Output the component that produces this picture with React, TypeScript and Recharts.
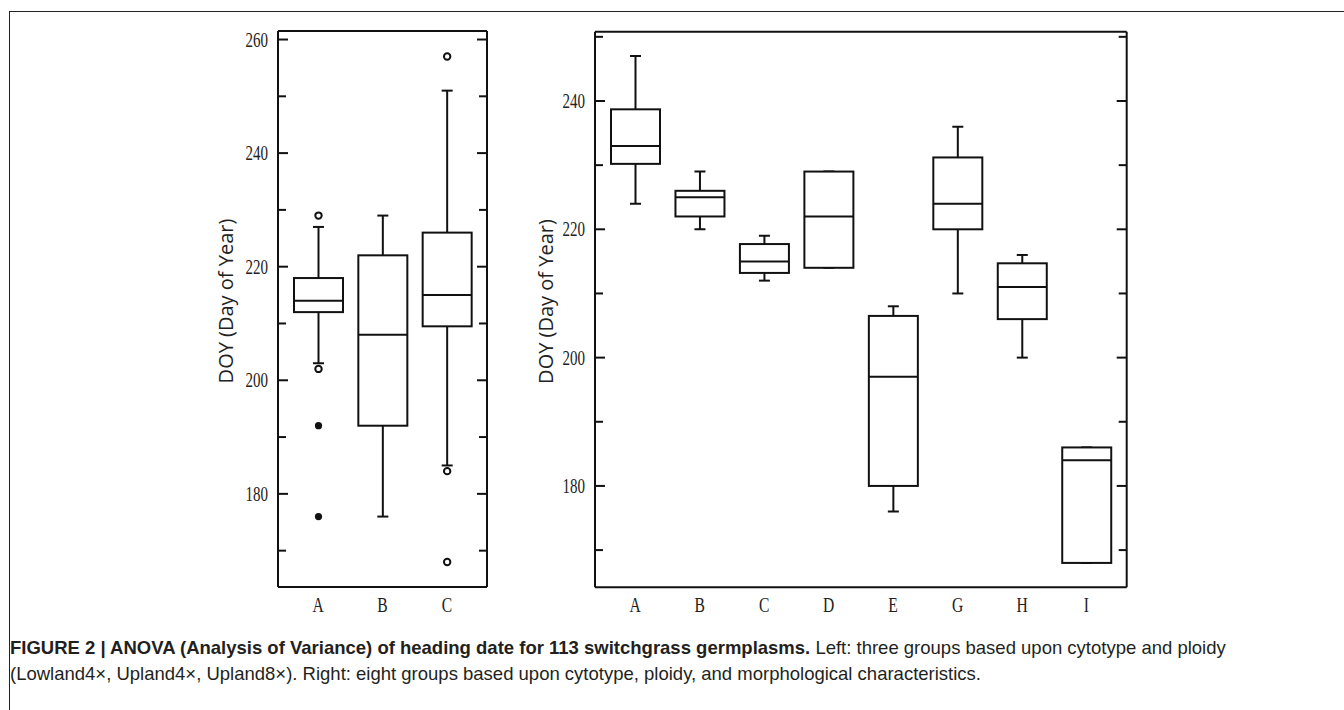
import React from "react";
import { ComposedChart, Bar, Line, XAxis, YAxis, ReferenceLine, Label } from "recharts";

// left panel: cytotype / ploidy groups
const leftCategories = ["A", "B", "C"];
const leftMin = [203, 176, 185];
const leftQ1 = [212, 192, 209.5];
const leftMedian = [214, 208, 215];
const leftQ3 = [218, 222, 226];
const leftMax = [227, 229, 251];
const leftOpenOutliers = [[229, 202], [], [257, 184, 168]];
const leftFilledOutliers = [[192, 176], [], []];
const leftTicks = [170, 180, 190, 200, 210, 220, 230, 240, 250, 260];
const leftDomain = [163.6, 261.5];

// right panel: eight groups
const rightCategories = ["A", "B", "C", "D", "E", "G", "H", "I"];
const rightMin = [224, 220, 212, 214, 176, 210, 200, 168];
const rightQ1 = [230.2, 222, 213.2, 214, 180, 220, 206, 168];
const rightMedian = [233, 225, 215, 222, 197, 224, 211, 184];
const rightQ3 = [238.7, 226, 217.7, 229, 206.5, 231.2, 214.7, 186];
const rightMax = [247, 229, 219, 229, 208, 236, 216, 186];
const rightTicks = [170, 180, 190, 200, 210, 220, 230, 240, 250];
const rightDomain = [164.2, 250.8];

const INK = "#111";

const buildRows = (
  cats: string[], min: number[], q1: number[], med: number[], q3: number[], max: number[],
  open: number[][] = [], filled: number[][] = []
) =>
  cats.map((name, i) => ({
    name,
    range: [min[i], max[i]],
    min: min[i], q1: q1[i], median: med[i], q3: q3[i], max: max[i],
    open: open[i] || [], filled: filled[i] || [],
  }));

const leftRows = buildRows(leftCategories, leftMin, leftQ1, leftMedian, leftQ3, leftMax, leftOpenOutliers, leftFilledOutliers);
const rightRows = buildRows(rightCategories, rightMin, rightQ1, rightMedian, rightQ3, rightMax);

// box drawn inside the bar that spans min..max
const BoxShape = (props: any) => {
  const { x, y, width, height, payload } = props;
  if (!payload) return null;
  const top = Math.min(y, y + height);
  const h = Math.abs(height);
  const span = payload.max - payload.min;
  const k = span > 0 ? h / span : 0;
  const py = (v: number) => top + (payload.max - v) * k;
  const cx = x + width / 2;
  const cap = 5.5;
  return (
    <g stroke={INK} strokeWidth={2} fill="none">
      <line x1={cx} x2={cx} y1={py(payload.max)} y2={py(payload.q3)} />
      <line x1={cx - cap} x2={cx + cap} y1={py(payload.max)} y2={py(payload.max)} />
      <line x1={cx} x2={cx} y1={py(payload.q1)} y2={py(payload.min)} />
      <line x1={cx - cap} x2={cx + cap} y1={py(payload.min)} y2={py(payload.min)} />
      <rect x={x} y={py(payload.q3)} width={width} height={py(payload.q1) - py(payload.q3)} fill="#fff" />
      <line x1={x} x2={x + width} y1={py(payload.median)} y2={py(payload.median)} />
      {payload.open.map((v: number, i: number) => (
        <circle key={`o${i}`} cx={cx} cy={py(v)} r={3.2} fill="#fff" />
      ))}
      {payload.filled.map((v: number, i: number) => (
        <circle key={`f${i}`} cx={cx} cy={py(v)} r={3.6} fill={INK} stroke="none" />
      ))}
    </g>
  );
};

const serif = "'Liberation Serif', 'Times New Roman', serif";

const XTick = (props: any) => {
  const { x, y, payload } = props;
  return (
    <g transform={`translate(${x},${y + 25}) scale(0.78,1)`}>
      <text textAnchor="middle" fontFamily={serif} fontSize={20} fill="#222">
        {payload.value}
      </text>
    </g>
  );
};

const LeftTick = (props: any) => {
  const { x, y, payload } = props;
  const axisX = x + 10;
  const major = payload.value % 20 === 0;
  return (
    <g>
      <line x1={axisX} x2={axisX + (major ? 10 : 8)} y1={y} y2={y} stroke={INK} strokeWidth={2} />
      {major && (
        <g transform={`translate(${x},${y}) scale(0.75,1)`}>
          <text textAnchor="end" dy="0.35em" fontFamily={serif} fontSize={20} fill="#222">
            {payload.value}
          </text>
        </g>
      )}
    </g>
  );
};

const RightTick = (props: any) => {
  const { x, y, payload } = props;
  const major = payload.value % 20 === 0;
  return <line x1={x} x2={x - (major ? 10 : 8)} y1={y} y2={y} stroke={INK} strokeWidth={2} />;
};

const axisTitle = (dx: number, dy: number) => (props: any) => {
  const vb = props.viewBox || { x: 0, y: 0, height: 0 };
  const cx = vb.x + dx;
  const cy = vb.y + vb.height / 2 + dy;
  return (
    <text
      x={cx} y={cy} transform={`rotate(-90, ${cx}, ${cy})`}
      textAnchor="middle" dominantBaseline="central"
      fontFamily="'Open Sans', sans-serif" fontSize={20} fill="#222"
    >
      DOY (Day of Year)
    </text>
  );
};

const BoxPanel = ({ rows, ticks, domain, width, height, yWidth, margin, titleDx }: any) => (
  <ComposedChart width={width} height={height} data={rows} margin={margin}>
    <XAxis
      dataKey="name" type="category" padding={{ left: 8, right: 8 }} height={30}
      tickSize={0} tickMargin={0} interval={0} tick={XTick}
      axisLine={{ stroke: INK, strokeWidth: 2 }} tickLine={false}
    />
    <YAxis
      yAxisId="l" type="number" domain={domain} ticks={ticks} allowDataOverflow interval={0}
      width={yWidth} tickSize={0} tickMargin={10} tick={LeftTick} tickLine={false}
      axisLine={{ stroke: INK, strokeWidth: 2 }}
    >
      <Label content={axisTitle(titleDx, -8)} />
    </YAxis>
    <YAxis
      yAxisId="r" orientation="right" type="number" domain={domain} ticks={ticks}
      allowDataOverflow interval={0} width={10} tickSize={0} tickMargin={0}
      tick={RightTick} tickLine={false} axisLine={{ stroke: INK, strokeWidth: 2 }}
    />
    <ReferenceLine yAxisId="l" y={domain[1]} stroke={INK} strokeWidth={2} />
    <Bar yAxisId="l" dataKey="range" barSize={49} shape={BoxShape} isAnimationActive={false} />
    {/* invisible series so the right-hand frame axis is drawn */}
    <Line
      yAxisId="r" dataKey="median" stroke="none" dot={false} activeDot={false}
      legendType="none" isAnimationActive={false}
    />
  </ComposedChart>
);

export default function App() {
  return (
    <div style={{ position: "absolute", left: 0, top: 0, width: 1344, height: 710, background: "#fff", overflow: "hidden" }}>
      <div style={{ position: "absolute", left: 9, top: 11, right: -2, bottom: -2, borderTop: "1.5px solid #222", borderLeft: "1.5px solid #222" }} />
      <div style={{ position: "absolute", left: 200, top: 20 }}>
        <BoxPanel
          rows={leftRows} ticks={leftTicks} domain={leftDomain}
          width={300} height={610} yWidth={78}
          margin={{ top: 11, right: 3, bottom: 13, left: 0 }} titleDx={25}
        />
      </div>
      <div style={{ position: "absolute", left: 530, top: 20 }}>
        <BoxPanel
          rows={rightRows} ticks={rightTicks} domain={rightDomain}
          width={610} height={610} yWidth={65}
          margin={{ top: 11.7, right: 3.3, bottom: 12.7, left: 0 }} titleDx={15}
        />
      </div>
      <div
        style={{
          position: "absolute", left: 10, top: 635, width: 1320,
          fontFamily: "'Liberation Sans Narrow', 'Arial Narrow', 'Liberation Sans', sans-serif",
          fontSize: 18.5, lineHeight: "26px", color: "#231f20",
        }}
      >
        <b>FIGURE 2 | ANOVA (Analysis of Variance) of heading date for 113 switchgrass germplasms.</b>{" "}
        Left: three groups based upon cytotype and ploidy
        <br />
        (Lowland4×, Upland4×, Upland8×). Right: eight groups based upon cytotype, ploidy, and morphological characteristics.
      </div>
    </div>
  );
}
